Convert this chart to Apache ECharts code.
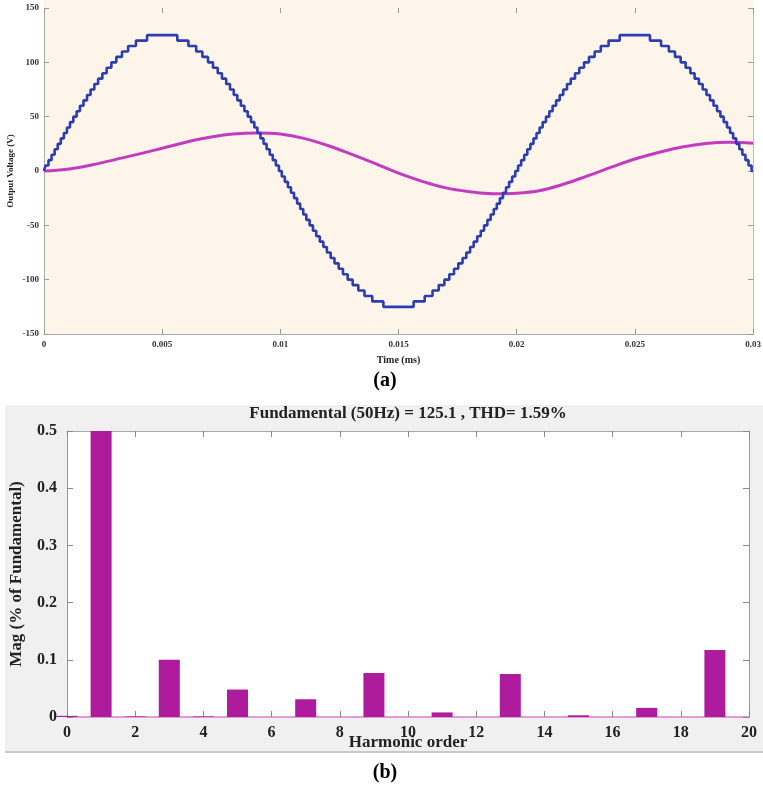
<!DOCTYPE html>
<html><head><meta charset="utf-8">
<script src="https://cdn.jsdelivr.net/npm/echarts@6/dist/echarts.min.js"></script>
<style>html,body{margin:0;padding:0;background:#fff}#c{width:763px;height:790px}</style>
</head><body><div id="c"></div><script>
// ---- (a) Output voltage: staircase (blue) — step-change times (ms) and new levels (V)
const blueTimesMs = [
  0,0.06,0.19,0.32,0.45,0.58,0.71,0.84,0.97,1.10,1.24,1.38,1.52,1.67,1.82,1.97,2.13,2.29,2.47,2.65,2.85,3.06,3.30,3.56,3.89,4.36,
  5.64,6.11,6.44,6.70,6.94,7.15,7.35,7.53,7.71,7.87,8.03,8.18,8.33,8.48,8.62,8.76,8.90,9.03,9.16,9.29,9.42,9.55,9.68,9.81,9.94,
  10.06,10.19,10.32,10.45,10.58,10.71,10.84,10.97,11.10,11.24,11.38,11.52,11.67,11.82,11.97,12.13,12.29,12.47,12.65,12.85,13.06,13.30,13.56,13.89,14.36,
  15.64,16.11,16.44,16.70,16.94,17.15,17.35,17.53,17.71,17.87,18.03,18.18,18.33,18.48,18.62,18.76,18.90,19.03,19.16,19.29,19.42,19.55,19.68,19.81,19.94,
  20.06,20.19,20.32,20.45,20.58,20.71,20.84,20.97,21.10,21.24,21.38,21.52,21.67,21.82,21.97,22.13,22.29,22.47,22.65,22.85,23.06,23.30,23.56,23.89,24.36,
  25.64,26.11,26.44,26.70,26.94,27.15,27.35,27.53,27.71,27.87,28.03,28.18,28.33,28.48,28.62,28.76,28.90,29.03,29.16,29.29,29.42,29.55,29.68,29.81,29.94,30
];
const blueLevels = [
  0,5,10,15,20,25,30,35,40,45,50,55,60,65,70,75,80,85,90,95,100,105,110,115,120,125,
  120,115,110,105,100,95,90,85,80,75,70,65,60,55,50,45,40,35,30,25,20,15,10,5,0,
  -5,-10,-15,-20,-25,-30,-35,-40,-45,-50,-55,-60,-65,-70,-75,-80,-85,-90,-95,-100,-105,-110,-115,-120,-125,
  -120,-115,-110,-105,-100,-95,-90,-85,-80,-75,-70,-65,-60,-55,-50,-45,-40,-35,-30,-25,-20,-15,-10,-5,0,
  5,10,15,20,25,30,35,40,45,50,55,60,65,70,75,80,85,90,95,100,105,110,115,120,125,
  120,115,110,105,100,95,90,85,80,75,70,65,60,55,50,45,40,35,30,25,20,15,10,5,0,0
];
// smooth (magenta) curve
const magentaTimesMs = [0,1,2,3,4,5,6,7,8,9,10,11,12,13,14,15,16,17,18,19,20,21,22,23,24,25,26,27,28,29,30];
const magentaValues  = [0,1.7,5.5,10.5,15.5,21,26.5,31,34,35,34,30,23.5,15.5,7,-2,-9.5,-15.5,-19,-21,-20.5,-18,-12,-4.5,3.5,11,17,22,25.3,26.5,25.5];
const timeTickLabels = ['0','0.005','0.01','0.015','0.02','0.025','0.03'];

// ---- (b) Harmonic spectrum
const harmonicOrders = [0,1,2,3,4,5,6,7,8,9,10,11,12,13,14,15,16,17,18,19,20];
const harmonicMags   = [0.002,100,0.001,0.100,0.001,0.048,0,0.031,0,0.077,0,0.008,0,0.075,0,0.003,0,0.016,0,0.117,0];
const harmonicTickLabels = ['0','2','4','6','8','10','12','14','16','18','20'];

const serif = '"Liberation Serif","DejaVu Serif",serif';
const blueData = blueTimesMs.map((t, i) => [t / 1000, blueLevels[i]]);
const magData = magentaTimesMs.map((t, i) => [t / 1000, magentaValues[i]]);
const barData = harmonicOrders.map((h, i) => [h, harmonicMags[i]]);

const chart = echarts.init(document.getElementById('c'), null, {renderer: 'canvas'});
const topLbl = {fontFamily: serif, fontWeight: 'bold', fontSize: 9, color: '#333'};
const botLbl = {fontFamily: serif, fontWeight: 'bold', fontSize: 16, color: '#222'};

chart.setOption({
  animation: false,
  backgroundColor: '#fff',
  graphic: [
    {type: 'rect', z: -10, silent: true, shape: {x: 5, y: 405, width: 758, height: 347}, style: {fill: '#f0f0f0'}},
    {type: 'line', z: -9, silent: true, shape: {x1: 5, y1: 752, x2: 763, y2: 752}, style: {stroke: '#c8c8c8', lineWidth: 2}},
    {type: 'rect', z: -10, silent: true, shape: {x: 44, y: 0, width: 709, height: 8}, style: {fill: '#fdf5ea'}},
    {type: 'text', z: 10, style: {text: '(a)', x: 385, y: 381, align: 'center', verticalAlign: 'middle', font: 'bold 20px ' + serif, fill: '#000'}},
    {type: 'text', z: 10, style: {text: '(b)', x: 385, y: 773, align: 'center', verticalAlign: 'middle', font: 'bold 20px ' + serif, fill: '#000'}},
    {type: 'text', z: 10, style: {text: 'Fundamental (50Hz) = 125.1 , THD= 1.59%', x: 408, y: 414, align: 'center', verticalAlign: 'middle', font: 'bold 17px ' + serif, fill: '#222'}}
  ],
  grid: [
    {left: 44, top: 8, width: 709, height: 326, show: true, backgroundColor: '#fdf5ea', borderWidth: 0, outerBoundsMode: 'none', containLabel: false},
    {left: 67, top: 431, width: 682, height: 286, show: true, backgroundColor: '#ffffff', borderWidth: 0, outerBoundsMode: 'none', containLabel: false}
  ],
  xAxis: [
    {type: 'value', gridIndex: 0, min: 0, max: 0.03, interval: 0.005,
      name: 'Time (ms)', nameLocation: 'middle', nameGap: 21, nameMoveOverlap: false,
      nameTextStyle: {fontFamily: serif, fontWeight: 'bold', fontSize: 10, color: '#222'},
      axisLine: {show: true, onZero: false, lineStyle: {color: '#aaa', width: 1}},
      axisTick: {show: true, inside: true, length: 5, lineStyle: {color: '#999'}},
      axisLabel: Object.assign({margin: 6, formatter: (v) => timeTickLabels[Math.round(v / 0.005)] || ''}, topLbl),
      splitLine: {show: false}},
    {type: 'value', gridIndex: 0, position: 'top', min: 0, max: 0.03, interval: 0.005,
      axisLine: {show: false, onZero: false}, axisTick: {show: true, inside: true, length: 5, lineStyle: {color: '#999'}},
      axisLabel: {show: false}, splitLine: {show: false}},
    {type: 'value', gridIndex: 1, min: 0, max: 20, interval: 2,
      name: 'Harmonic order', nameLocation: 'middle', nameGap: 17, nameMoveOverlap: false,
      nameTextStyle: {fontFamily: serif, fontWeight: 'bold', fontSize: 17, color: '#222'},
      axisLine: {show: true, onZero: false, lineStyle: {color: '#d77fd0', width: 1.5}},
      axisTick: {show: true, inside: true, length: 6, lineStyle: {color: '#888'}},
      axisLabel: Object.assign({margin: 8, formatter: (v) => harmonicTickLabels[Math.round(v / 2)] || ''}, botLbl),
      splitLine: {show: false}},
    {type: 'value', gridIndex: 1, position: 'top', min: 0, max: 20, interval: 2,
      axisLine: {show: true, onZero: false, lineStyle: {color: '#aaa'}}, axisTick: {show: true, inside: true, length: 6, lineStyle: {color: '#888'}},
      axisLabel: {show: false}, splitLine: {show: false}}
  ],
  yAxis: [
    {type: 'value', gridIndex: 0, min: -150, max: 150, interval: 50,
      name: 'Output Voltage (V)', nameLocation: 'middle', nameGap: 29, nameRotate: 90, nameMoveOverlap: false,
      nameTextStyle: {fontFamily: serif, fontWeight: 'bold', fontSize: 9, color: '#222'},
      axisLine: {show: true, onZero: false, lineStyle: {color: '#aaa'}},
      axisTick: {show: true, inside: true, length: 5, lineStyle: {color: '#999'}},
      axisLabel: Object.assign({margin: 5}, topLbl),
      splitLine: {show: false}},
    {type: 'value', gridIndex: 0, position: 'right', min: -150, max: 150, interval: 50,
      axisLine: {show: true, onZero: false, lineStyle: {color: '#bbb'}},
      axisTick: {show: true, inside: true, length: 5, lineStyle: {color: '#999'}},
      axisLabel: {show: false}, splitLine: {show: false}},
    {type: 'value', gridIndex: 1, min: 0, max: 0.5, interval: 0.1,
      name: 'Mag (% of Fundamental)', nameLocation: 'middle', nameGap: 42, nameRotate: 90, nameMoveOverlap: false,
      nameTextStyle: {fontFamily: serif, fontWeight: 'bold', fontSize: 17, color: '#222'},
      axisLine: {show: true, onZero: false, lineStyle: {color: '#999'}},
      axisTick: {show: true, inside: true, length: 6, lineStyle: {color: '#888'}},
      axisLabel: Object.assign({margin: 10, formatter: (v) => (v === 0 ? '0' : v.toFixed(1))}, botLbl),
      splitLine: {show: false}},
    {type: 'value', gridIndex: 1, position: 'right', min: 0, max: 0.5, interval: 0.1,
      axisLine: {show: true, onZero: false, lineStyle: {color: '#999'}},
      axisTick: {show: true, inside: true, length: 6, lineStyle: {color: '#888'}},
      axisLabel: {show: false}, splitLine: {show: false}}
  ],
  series: [
    {type: 'line', xAxisIndex: 0, yAxisIndex: 0, data: magData, smooth: 0.4, showSymbol: false,
      lineStyle: {color: '#c33cc0', width: 3}, z: 2},
    {type: 'line', xAxisIndex: 0, yAxisIndex: 0, data: blueData, step: 'end', showSymbol: false,
      lineStyle: {color: '#2b3db0', width: 2.6}, z: 3},
    {type: 'bar', xAxisIndex: 2, yAxisIndex: 2, data: barData, barWidth: 21, clip: true,
      itemStyle: {color: '#ae1b9c'}, z: 2}
  ]
});
</script></body></html>
